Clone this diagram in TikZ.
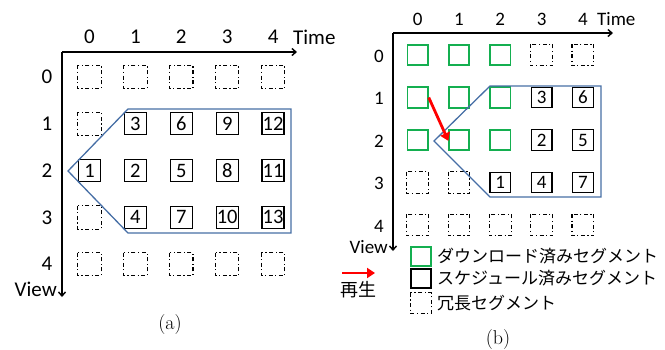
\documentclass[tikz,border=0pt]{standalone}
\usepackage{fontspec}
\newfontfamily\carl{Carlito}
\newfontfamily\jpf{Noto Sans CJK JP}
\usetikzlibrary{arrows.meta}
\definecolor{segg}{RGB}{20,175,80}
\definecolor{polyb}{RGB}{70,110,165}
\definecolor{playr}{RGB}{255,0,0}
\tikzset{
  lblA/.style={font=\carl\fontsize{21}{21}\selectfont, inner sep=0pt},
  lblB/.style={font=\carl\fontsize{19}{19}\selectfont, inner sep=0pt},
  boxA/.style={draw, line width=1.3pt, minimum size=22pt, inner sep=0pt, font=\carl\fontsize{20.5}{20.5}\selectfont},
  boxB/.style={draw, line width=1.3pt, minimum size=20.5pt, inner sep=0pt, font=\carl\fontsize{19}{19}\selectfont},
  redund/.style={draw, line width=1.1pt, dash pattern=on 4pt off 2.5pt on 1.2pt off 2.5pt},
  done/.style={draw=segg, line width=1.6pt},
  axis/.style={line width=1.4pt, -{Straight Barb[length=4pt,width=7pt]}},
  poly/.style={draw=polyb, line width=1.3pt, line join=miter},
  play/.style={draw=playr, line width=2.8pt, -{Triangle[length=8pt,width=10pt]}},
  legtext/.style={font=\jpf\fontsize{17}{17}\selectfont, inner sep=0pt, anchor=west},
  captext/.style={font=\fontsize{20}{20}\selectfont, inner sep=0pt}
}
\begin{document}
\begin{tikzpicture}[x=1pt,y=-1pt]
\useasboundingbox (0,0) rectangle (665,349);
% ---------------- panel (a)
\coordinate (aO) at (62,52);
\coordinate (aX) at (297,52);
\coordinate (aY) at (62,297);
\draw[axis] (aO) -- (aX);
\draw[axis] (aO) -- (aY);
\foreach \c in {0,...,4} { \node[lblA] (acl\c) at ({89.5+45.9*\c},37) {\c}; }
\foreach \r in {0,...,4} { \node[lblA] (arl\r) at (47,{77+46.8*\r}) {\r}; }
\node[lblA, anchor=west] (atime) at (293,37) {Time};
\node[lblA, anchor=east] (aview) at (57,289) {View};
\foreach \c/\r in {0/0,1/0,2/0,3/0,4/0,0/1,0/3,0/4,1/4,2/4,3/4,4/4}
  { \node[boxA, draw=none] (a\c\r) at ({89.5+45.9*\c},{77+46.8*\r}) {};
    \draw[redund] (a\c\r.north west) rectangle (a\c\r.south east); }
\foreach \c/\r/\t in {1/1/3,2/1/6,3/1/9,4/1/12,0/2/1,1/2/2,2/2/5,3/2/8,4/2/11,1/3/4,2/3/7,3/3/10,4/3/13}
  { \node[boxA] (a\c\r) at ({89.5+45.9*\c},{77+46.8*\r}) {\t}; }
\draw[poly] (68,171) -- (128,109) -- (291,109) -- (291,233) -- (128,233) -- cycle;
\node[captext] (capa) at (170,325) {(a)};
% ---------------- panel (b)
\coordinate (bO) at (393,33);
\coordinate (bX) at (613,33);
\coordinate (bY) at (393,251);
\draw[axis] (bO) -- (bX);
\draw[axis] (bO) -- (bY);
\foreach \c in {0,...,4} { \node[lblB] (bcl\c) at ({417.7+41.3*\c},19) {\c}; }
\foreach \r in {0,...,4} { \node[lblB] (brl\r) at (379,{56+42.5*\r}) {\r}; }
\node[lblB, anchor=west] (btime) at (597,19) {Time};
\node[lblB, anchor=east] (bview) at (388,247) {View};
\foreach \c/\r in {3/0,4/0,0/3,1/3,0/4,1/4,2/4,3/4,4/4}
  { \node[boxB, draw=none] (b\c\r) at ({417.7+41.3*\c},{55+42.5*\r}) {};
    \draw[redund] (b\c\r.north west) rectangle (b\c\r.south east); }
\foreach \c/\r in {0/0,1/0,2/0,0/1,1/1,2/1,0/2,1/2,2/2}
  { \node[boxB, done] (b\c\r) at ({417.7+41.3*\c},{55+42.5*\r}) {}; }
\foreach \c/\r/\t in {3/1/3,4/1/6,3/2/2,4/2/5,2/3/1,3/3/4,4/3/7}
  { \node[boxB] (b\c\r) at ({417.7+41.3*\c},{55+42.5*\r}) {\t}; }
\draw[poly] (434,141) -- (490,86) -- (601,86) -- (601,197) -- (490,197) -- cycle;
\draw[play, shorten >=-1pt] (b01.east) -- (b12.west);
% legend
\node[boxB, done, minimum width=20pt, minimum height=19pt] (lg1) at (421,256.5) {};
\node[boxB, minimum width=20pt, minimum height=19pt] (lg2) at (421,278.5) {};
\node[boxB, draw=none, minimum width=20pt, minimum height=19pt] (lg3) at (421,303) {};
\draw[redund] (lg3.north west) rectangle (lg3.south east);
\node[legtext] (lt1) at (437,256) {ダウンロード済みセグメント};
\node[legtext] (lt2) at (437,278.5) {スケジュール済みセグメント};
\node[legtext] (lt3) at (437,303) {冗長セグメント};
\coordinate (pl1) at (342,273);
\coordinate (pl2) at (375,273);
\draw[play] (pl1) -- (pl2);
\node[font=\jpf\fontsize{18}{18}\selectfont, inner sep=0pt] (plt) at (358,290) {再生};
\node[captext] (capb) at (498,340) {(b)};
\end{tikzpicture}
\end{document}
